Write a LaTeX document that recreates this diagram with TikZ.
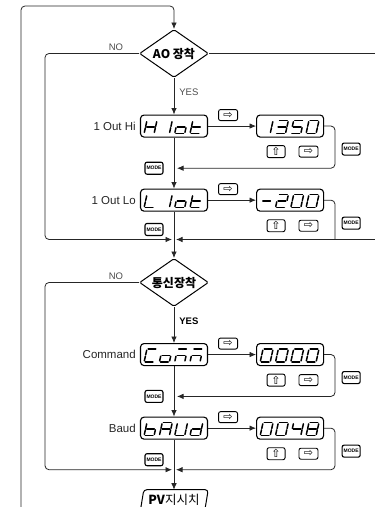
\documentclass[tikz,border=0pt]{standalone}
\usepackage{fontspec}
\setmainfont{Liberation Sans}
\newfontfamily\kr{Noto Sans CJK KR}
\newfontfamily\sym{DejaVu Sans}
\usetikzlibrary{arrows.meta,positioning,calc,shapes.geometric}
\tikzset{
  disp/.style={draw, line width=1.1pt, rounded corners=3.5pt, minimum width=67pt, minimum height=22pt, inner sep=0pt},
  dec/.style={draw, line width=1pt, shape=diamond, aspect=1.45, minimum width=69pt, minimum height=48pt, inner sep=0pt, rounded corners=1.5pt, font=\kr\bfseries\fontsize{12}{12}\selectfont},
  pvbox/.style={minimum width=64pt, minimum height=20pt, inner sep=0pt, font=\kr\fontsize{12.5}{13}\selectfont},
  key/.style={draw, line width=.9pt, rounded corners=2pt, minimum width=19pt, minimum height=11pt, inner sep=0pt, font=\sym\fontsize{11}{11}\selectfont},
  modekey/.style={draw, line width=1.1pt, rounded corners=2pt, minimum width=18pt, minimum height=12pt, inner sep=0pt, font=\bfseries\fontsize{5}{5}\selectfont},
  lbl/.style={font=\fontsize{11.5}{12}\selectfont, text=black!85, inner sep=0pt},
  yn/.style={font=\fontsize{9.5}{10}\selectfont, text=black!70, inner sep=0pt},
  line/.style={line width=.8pt, black!85},
  arr/.style={line, -{Latex[length=6.5pt,width=5.5pt]}},
  seg/.style={line width=1.5pt, line cap=round},
  seg a/.style={insert path={(1.2,0)--(8.8,0)}},
  seg b/.style={insert path={(10,1.2)--(10,5.8)}},
  seg c/.style={insert path={(10,7.2)--(10,11.8)}},
  seg d/.style={insert path={(1.2,13)--(8.8,13)}},
  seg e/.style={insert path={(0,7.2)--(0,11.8)}},
  seg f/.style={insert path={(0,1.2)--(0,5.8)}},
  seg g/.style={insert path={(1.2,6.5)--(8.8,6.5)}},
}
% four 7-segment digits inside a display box
\newcommand\lcd[2]{%
  \foreach \dg [count=\i] in {#2}{%
    \begin{scope}[shift={($(#1.west)+(7+15.3*\i-15.3,-5.5)$)}, xslant=.22]
      \foreach \s in \dg {\draw[seg, seg \s];}
    \end{scope}}}

\begin{document}
\begin{tikzpicture}[x=1pt, y=-1pt]
  \useasboundingbox (0,0) rectangle (375,507);
  \clip (0,0) rectangle (375,507);
  \coordinate (back) at (21,512);
  \coordinate (top) at (174,6);
  \coordinate (lrail) at (45,0);
  \coordinate (rrail) at (335,0);
  \coordinate (edge) at (376,0);

  % AO
  \node[dec] (dA) at (174,53.5) {AO 장착};
  \node[disp, below=36.5pt of dA] (hi) {};
  \node[disp, right=48pt of hi] (hival) {};
  \node[disp, below=51pt of hi] (lo) {};
  \node[disp, right=48pt of lo] (loval) {};
  \node[lbl, left=4pt of hi] (hilbl) {1 Out Hi};
  \node[lbl, left=4pt of lo] (lolbl) {1 Out Lo};
  \coordinate (m1) at ($(hi.south)!.6!(lo.north)$);

  % comm
  \node[dec] (dC) at (174,282.5) {통신장착};
  \node[disp, below=36pt of dC] (cmd) {};
  \node[disp, right=48pt of cmd] (cmdval) {};
  \node[disp, below=50.5pt of cmd] (baud) {};
  \node[disp, right=48pt of baud] (baudval) {};
  \node[lbl, left=4pt of cmd] (cmdlbl) {Command};
  \node[lbl, left=4pt of baud] (baudlbl) {Baud};
  \node[pvbox, below=50pt of baud] (pv) {\textbf{PV}지시치};
  \draw[line width=1pt, rounded corners=3pt] ([xshift=-2pt, yshift=-4pt]pv.south west) -- ([xshift=2pt]pv.north west)
    -- ([xshift=2pt]pv.north east) -- ([xshift=-2pt, yshift=-4pt]pv.south east);
  \coordinate (m3) at ($(cmd.south)!.6!(baud.north)$);
  \coordinate (jC) at ($(baud.south)!.6!(pv.north)$);
  \coordinate (jA) at ($(lo.south)!.6!(dC.north)$);

  % displays
  \lcd{hi}{{b,c,e,f,g},{b,c},{c,d,e,g},{d,e,f,g}}
  \lcd{hival}{{b,c},{a,b,c,d,g},{a,c,d,f,g},{a,b,c,d,e,f}}
  \lcd{lo}{{d,e,f},{b,c},{c,d,e,g},{d,e,f,g}}
  \lcd{loval}{{g},{a,b,d,e,g},{a,b,c,d,e,f},{a,b,c,d,e,f}}
  \lcd{cmd}{{a,d,e,f},{c,d,e,g},{a,c,e,g},{a,c,e,g}}
  \lcd{cmdval}{{a,b,c,d,e,f},{a,b,c,d,e,f},{a,b,c,d,e,f},{a,b,c,d,e,f}}
  \lcd{baud}{{c,d,e,f,g},{a,b,c,e,f,g},{b,c,d,e,f},{b,c,d,e,g}}
  \lcd{baudval}{{a,b,c,d,e,f},{a,b,c,d,e,f},{b,c,f,g},{a,b,c,d,e,f,g}}

  % keys
  \foreach \b/\v/\k in {hi/hival/1, lo/loval/2, cmd/cmdval/3, baud/baudval/4}{
    \node[key] (rt\k) at ($(\b.east)!.5!(\v.west)+(-4,-11)$) {⇨};
    \node[key, minimum width=18pt, minimum height=12pt] (up\k) at ($(\v.south west)+(20,14)$) {⇧};
    \node[key, right=13pt of up\k] (nx\k) {⇨};
    \node[modekey] (mr\k) at ($(\v.east)+(27,23)$) {MODE};
  }
  \node[modekey] (ml1) at ($(m1)+(-20,0)$) {MODE};
  \node[modekey] (ml2) at ($(jA)+(-20,-10)$) {MODE};
  \node[modekey] (ml3) at ($(m3)+(-20,0)$) {MODE};
  \node[modekey] (ml4) at ($(jC)+(-20,-10)$) {MODE};

  \node[yn] (noA) at (116,47.5) {NO};
  \node[yn] (noC) at (116,276) {NO};

  % flow
  \draw[arr, rounded corners=4pt] (back) |- (top) -- (dA.north);
  \draw[arr] (dA.south) -- node[yn, right=5pt, pos=.4] {YES} (hi.north);
  \draw[line] (dA.east) -- (edge |- dA.east);
  \draw[arr, rounded corners=4pt] (dA.west) -| (lrail |- jA) -- ([xshift=-2pt]jA);
  \draw[arr] (hi) -- (hival);
  \draw[arr, rounded corners=4pt] (hival.east) -| (rrail |- m1) -- ([xshift=3pt]m1);
  \draw[arr] (hi) -- (lo);
  \draw[arr] (lo) -- (loval);
  \draw[line, rounded corners=4pt] (loval.east) -| (rrail |- jA);
  \draw[arr] (edge |- jA) -- ([xshift=2pt]jA);
  \draw[arr] (lo) -- (dC);

  \draw[arr] (dC.south) -- node[yn, text=black, font=\bfseries\fontsize{9.5}{10}\selectfont, right=5pt, pos=.4] {YES} (cmd.north);
  \draw[arr, rounded corners=4pt] (dC.west) -| (lrail |- jC) -- ([xshift=-2pt]jC);
  \draw[arr] (cmd) -- (cmdval);
  \draw[arr, rounded corners=4pt] (cmdval.east) -| (rrail |- m3) -- ([xshift=3pt]m3);
  \draw[arr] (cmd) -- (baud);
  \draw[arr] (baud) -- (baudval);
  \draw[arr, rounded corners=4pt] (baudval.east) -| (rrail |- jC) -- ([xshift=2pt]jC);
  \draw[arr] (baud) -- (pv);
\end{tikzpicture}
\end{document}
